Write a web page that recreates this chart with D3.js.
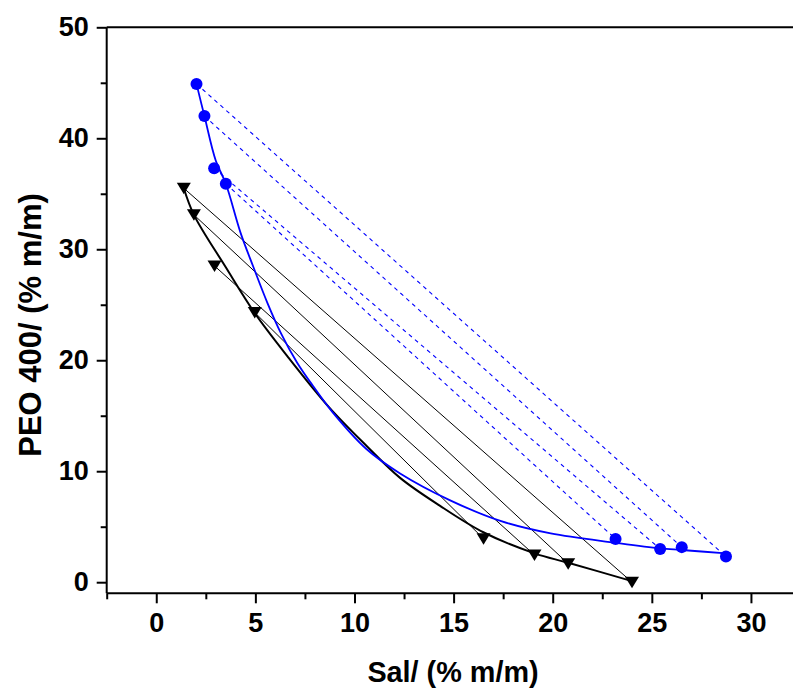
<!DOCTYPE html>
<html>
<head>
<meta charset="utf-8">
<script src="https://cdn.jsdelivr.net/npm/d3@7"></script>
<style>
  html, body { margin: 0; padding: 0; background: #fff; }
  svg { display: block; }
  text { font-family: "Liberation Sans", Arial, sans-serif; font-weight: bold; fill: #000; }
</style>
</head>
<body>
<svg id="chart" width="793" height="690"></svg>
<script>
// ---- Data ----
// Blue system: circles (top phase / bottom phase) and fitted binodal
const blueTopX = [2.03, 2.43, 2.92, 3.51];
const blueTopY = [44.9, 42.0, 37.3, 35.9];
const blueBotX = [28.74, 26.51, 25.42, 23.17];
const blueBotY = [2.31, 3.16, 3.0, 3.9];
const blueCurveX = [2.03, 2.43, 3.0, 3.51, 4.25, 4.9, 5.6, 6.3, 7.1, 7.9, 8.9, 10.6, 12.3, 14.8, 17.4, 19.9, 23.2, 25.4, 26.5, 28.74];
const blueCurveY = [44.9, 42.0, 38.0, 35.9, 31.5, 28.4, 25.2, 22.4, 19.8, 17.7, 15.3, 12.0, 9.8, 7.4, 5.5, 4.4, 3.55, 3.05, 2.9, 2.6];

// Black system: down triangles and fitted binodal
const blackTopX = [1.39, 1.9, 2.94, 4.97];
const blackTopY = [35.5, 33.1, 28.5, 24.3];
const blackBotX = [24.0, 20.78, 19.08, 16.51];
const blackBotY = [0.0, 1.67, 2.45, 3.92];
const blackCurveX = [1.39, 1.9, 3.5, 4.95, 6.6, 8.7, 10.6, 12.3, 14.3, 16.5, 19.08, 20.78, 24.0];
const blackCurveY = [35.5, 33.1, 28.4, 24.3, 20.4, 15.8, 12.3, 9.4, 6.9, 4.5, 2.6, 1.75, 0.1];

// Axis ticks
const xMajor = [0, 5, 10, 15, 20, 25, 30];
const xMinor = [-2.5, 2.5, 7.5, 12.5, 17.5, 22.5, 27.5, 32.5];
const yMajor = [0, 10, 20, 30, 40, 50];
const yMinor = [5, 15, 25, 35, 45];
const xTitle = "Sal/ (% m/m)";
const yTitle = "PEO 400/ (% m/m)";

// ---- Scales ----
const svg = d3.select("#chart");
const x = d3.scaleLinear().domain([-2.5, 32.5]).range([106.7, 800.5]);
const y = d3.scaleLinear().domain([-1, 50]).range([593.3, 27.3]);

// ---- Axes ----
const xAxisMajor = d3.axisBottom(x).tickValues(xMajor).tickSize(10).tickPadding(8).tickFormat(d3.format("d"));
const xAxisMinor = d3.axisBottom(x).tickValues(xMinor).tickSize(6).tickFormat("");
const yAxisMajor = d3.axisLeft(y).tickValues(yMajor).tickSize(10).tickPadding(8).tickFormat(d3.format("d"));
const yAxisMinor = d3.axisLeft(y).tickValues(yMinor).tickSize(6).tickFormat("");

function styleAxis(g) {
  g.select(".domain").remove();
  g.selectAll(".tick line").attr("stroke", "#000").attr("stroke-width", 2);
  g.selectAll(".tick text").style("font-size", "27px").style("font-weight", "bold")
    .style("font-family", '"Liberation Sans", Arial, sans-serif').attr("fill", "#000");
}

const gx = svg.append("g").attr("transform", `translate(0,${y(-1)})`);
gx.append("g").call(xAxisMinor).call(styleAxis);
gx.append("g").call(xAxisMajor).call(styleAxis);
gx.selectAll(".tick text").attr("dy", "0.78em");

const gy = svg.append("g").attr("transform", `translate(${x(-2.5)},0)`);
gy.append("g").call(yAxisMinor).call(styleAxis);
gy.append("g").call(yAxisMajor).call(styleAxis);

// Frame lines (left, bottom, top)
const frame = svg.append("g").attr("stroke", "#000").attr("stroke-width", 2).attr("fill", "none");
frame.append("line").attr("x1", x(-2.5)).attr("x2", x(-2.5)).attr("y1", y(50)).attr("y2", y(-1));
frame.append("line").attr("x1", x(-2.5)).attr("x2", x(32.5)).attr("y1", y(-1)).attr("y2", y(-1));
frame.append("line").attr("x1", x(-2.5)).attr("x2", x(32.5)).attr("y1", y(50)).attr("y2", y(50));

// Titles
svg.append("text").attr("x", 453).attr("y", 682).attr("text-anchor", "middle")
  .style("font-size", "28.8px").text(xTitle);
svg.append("text").attr("transform", `translate(41,325) rotate(-90)`).attr("text-anchor", "middle")
  .style("font-size", "31px").text(yTitle);

// ---- Plot content ----
const plot = svg.append("g");

// Blue dashed tie lines
plot.selectAll("line.blueTie").data(blueTopX).enter().append("line")
  .attr("class", "blueTie")
  .attr("x1", (d, i) => x(blueTopX[i])).attr("y1", (d, i) => y(blueTopY[i]))
  .attr("x2", (d, i) => x(blueBotX[i])).attr("y2", (d, i) => y(blueBotY[i]))
  .attr("stroke", "#0000ff").attr("stroke-width", 1.1).attr("stroke-dasharray", "4,4");

// Black solid tie lines
plot.selectAll("line.blackTie").data(blackTopX).enter().append("line")
  .attr("class", "blackTie")
  .attr("x1", (d, i) => x(blackTopX[i])).attr("y1", (d, i) => y(blackTopY[i]))
  .attr("x2", (d, i) => x(blackBotX[i])).attr("y2", (d, i) => y(blackBotY[i]))
  .attr("stroke", "#000").attr("stroke-width", 1);

// Curves
const lineGen = d3.line().x(d => x(d[0])).y(d => y(d[1])).curve(d3.curveCatmullRom.alpha(0.5));
plot.append("path").datum(blackCurveX.map((v, i) => [v, blackCurveY[i]]))
  .attr("d", lineGen).attr("fill", "none").attr("stroke", "#000").attr("stroke-width", 2);
plot.append("path").datum(blueCurveX.map((v, i) => [v, blueCurveY[i]]))
  .attr("d", lineGen).attr("fill", "none").attr("stroke", "#0000ff").attr("stroke-width", 1.8);

// Markers
const circles = blueTopX.map((v, i) => [v, blueTopY[i]]).concat(blueBotX.map((v, i) => [v, blueBotY[i]]));
plot.selectAll("circle.pt").data(circles).enter().append("circle")
  .attr("cx", d => x(d[0])).attr("cy", d => y(d[1])).attr("r", 6).attr("fill", "#0000ff");

const tris = blackTopX.map((v, i) => [v, blackTopY[i]]).concat(blackBotX.map((v, i) => [v, blackBotY[i]]));
plot.selectAll("path.tri").data(tris).enter().append("path")
  .attr("transform", d => `translate(${x(d[0])},${y(d[1])})`)
  .attr("d", "M-7,-5.5 L7,-5.5 L0,6 Z").attr("fill", "#000");
</script>
</body>
</html>
